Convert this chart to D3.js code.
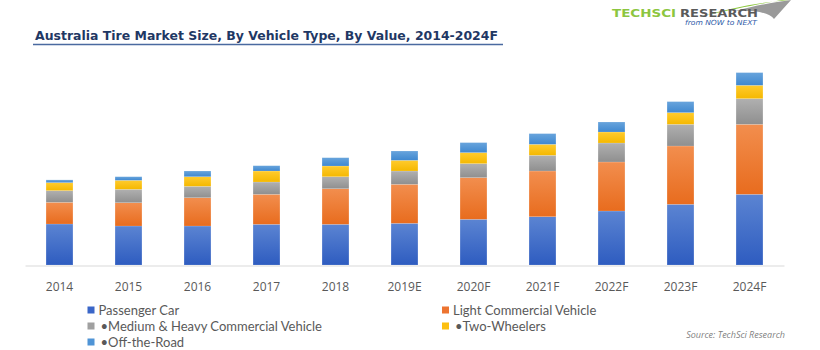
<!DOCTYPE html>
<html>
<head>
<meta charset="utf-8">
<script src="https://cdn.jsdelivr.net/npm/d3@7"></script>
<style>
  body { margin: 0; background: #fff; }
  svg { display: block; }
</style>
</head>
<body>
<div id="chart"></div>
<script>
// Data (arbitrary value units, no y axis in the source)
var years = ["2014", "2015", "2016", "2017", "2018", "2019E", "2020F", "2021F", "2022F", "2023F", "2024F"];
var passengerCar = [41, 39, 39, 40.7, 40.7, 41.7, 45.7, 48.3, 54, 60.7, 70.7];
var lightCommercial = [21.7, 23.3, 28.3, 30, 35.6, 39, 41.7, 45.7, 49, 58.3, 70];
var mediumHeavy = [11.7, 13.4, 11.4, 12.3, 12, 13.3, 14, 15.7, 19, 21.7, 25.7];
var twoWheelers = [8, 9, 9.6, 11, 10.7, 10.7, 11, 11, 11, 11.7, 13.3];
var offTheRoad = [2.7, 3.6, 5.7, 5.3, 8.3, 9.3, 10, 10.7, 10, 11, 12.7];
var seriesNames = ["Passenger Car", "Light Commercial Vehicle", "\u2022Medium & Heavy Commercial Vehicle", "\u2022Two-Wheelers", "\u2022Off-the-Road"];

var width = 820, height = 350;
var baseline = 265;
var font = "'Open Sans', 'Noto Sans', sans-serif";

// colours: [top, bottom] of each segment gradient
var colors = [
    ["#5b84d2", "#2e5cc0"],
    ["#f28e4e", "#e86c1e"],
    ["#b0b0b0", "#8f8f8f"],
    ["#ffcb2e", "#f5b800"],
    ["#68a4dc", "#3f88d0"]
];
var legendColors = ["#3a66c8", "#ed7430", "#a0a0a0", "#fcbf10", "#4f94d6"];

var svg = d3.select("#chart")
    .append("svg")
        .attr("width", width)
        .attr("height", height);

var defs = svg.append("defs");
colors.forEach(function (c, i) {
    var g = defs.append("linearGradient")
        .attr("id", "grad" + i)
        .attr("x1", 0).attr("y1", 0).attr("x2", 0).attr("y2", 1);
    g.append("stop").attr("offset", "0%").attr("stop-color", c[0]);
    g.append("stop").attr("offset", "100%").attr("stop-color", c[1]);
});

// Build table for stacking
var table = years.map(function (y, i) {
    return {
        year: y,
        s0: passengerCar[i],
        s1: lightCommercial[i],
        s2: mediumHeavy[i],
        s3: twoWheelers[i],
        s4: offTheRoad[i]
    };
});
var keys = ["s0", "s1", "s2", "s3", "s4"];
var stacked = d3.stack().keys(keys)(table);

// Scales
var x = d3.scaleBand()
    .domain(years)
    .range([25, 784])
    .paddingInner(0.61)
    .paddingOuter(0.305);

var y = d3.scaleLinear()
    .domain([0, 200])
    .range([baseline, baseline - 200]);

// Bars
svg.append("g")
    .selectAll("g")
    .data(stacked)
    .join("g")
        .attr("fill", function (d, i) { return "url(#grad" + i + ")"; })
    .selectAll("rect")
    .data(function (d) { return d; })
    .join("rect")
        .attr("x", function (d) { return x(d.data.year); })
        .attr("y", function (d) { return y(d[1]); })
        .attr("width", x.bandwidth())
        .attr("height", function (d) { return y(d[0]) - y(d[1]); })
        .attr("stroke", "#ffffff")
        .attr("stroke-opacity", 0.25)
        .attr("stroke-width", 0.6);

// X axis
var xAxis = svg.append("g")
    .attr("transform", "translate(0," + (baseline + 0.5) + ")")
    .call(d3.axisBottom(x).tickSize(0).tickSizeOuter(0).tickPadding(17));
xAxis.select(".domain").attr("stroke", "#d9d9d9").attr("stroke-width", 1.2);
xAxis.selectAll("text")
    .attr("fill", "#595959")
    .style("font", "12px " + font);

// Title
svg.append("text")
    .attr("x", 35)
    .attr("y", 40)
    .attr("textLength", 463)
    .attr("lengthAdjust", "spacingAndGlyphs")
    .attr("fill", "#1f3864")
    .style("font", "bold 13px 'DejaVu Sans', sans-serif")
    .text("Australia Tire Market Size, By Vehicle Type, By Value, 2014-2024F");
svg.append("line")
    .attr("x1", 33).attr("x2", 503)
    .attr("y1", 44.5).attr("y2", 44.5)
    .attr("stroke", "#4a6aa0")
    .attr("stroke-width", 1.6);

// Logo
var logo = svg.append("g");
logo.append("path")
    .attr("d", "M703,16 C730,8 760,2 790,0 L782,0 C760,4 735,9 703,16 Z")
    .attr("fill", "#8cc63f");
logo.append("path")
    .attr("d", "M735,11 C758,5 775,2 791,0 L774,19 C770,13 756,10 735,11 Z")
    .attr("fill", "#9a9a9a");
logo.append("text")
    .attr("x", 612).attr("y", 17)
    .attr("textLength", 64)
    .attr("lengthAdjust", "spacingAndGlyphs")
    .attr("fill", "#8cc63f")
    .style("font", "bold 10px 'DejaVu Sans', sans-serif")
    .text("TECHSCI");
logo.append("text")
    .attr("x", 680).attr("y", 17)
    .attr("textLength", 78)
    .attr("lengthAdjust", "spacingAndGlyphs")
    .attr("fill", "#5a5a5a")
    .style("font", "bold 10px 'DejaVu Sans', sans-serif")
    .text("RESEARCH");
logo.append("text")
    .attr("x", 685).attr("y", 25)
    .attr("textLength", 72)
    .attr("lengthAdjust", "spacingAndGlyphs")
    .attr("fill", "#2e5aa8")
    .style("font", "italic 7px 'DejaVu Sans', sans-serif")
    .text("from NOW to NEXT");

// Legend
var legendPos = [[87.5, 310], [442, 310], [87.5, 326], [442, 326], [87.5, 342]];
var legend = svg.append("g")
    .selectAll("g")
    .data(seriesNames)
    .join("g")
        .attr("transform", function (d, i) { return "translate(" + legendPos[i][0] + "," + legendPos[i][1] + ")"; });
legend.append("rect")
    .attr("x", 0).attr("y", -3.5)
    .attr("width", 7).attr("height", 7)
    .attr("fill", function (d, i) { return legendColors[i]; });
legend.append("text")
    .attr("x", function (d, i) { return i < 2 ? 11 : 13; })
    .attr("y", 0)
    .attr("dy", "0.35em")
    .attr("fill", "#595959")
    .style("font", "13px Lato, 'Open Sans', sans-serif")
    .text(function (d) { return d; });

// Source
svg.append("text")
    .attr("x", 785)
    .attr("y", 338)
    .attr("text-anchor", "end")
    .attr("fill", "#7f7f7f")
    .style("font", "italic 9px " + font)
    .text("Source: TechSci Research");
</script>
</body>
</html>
